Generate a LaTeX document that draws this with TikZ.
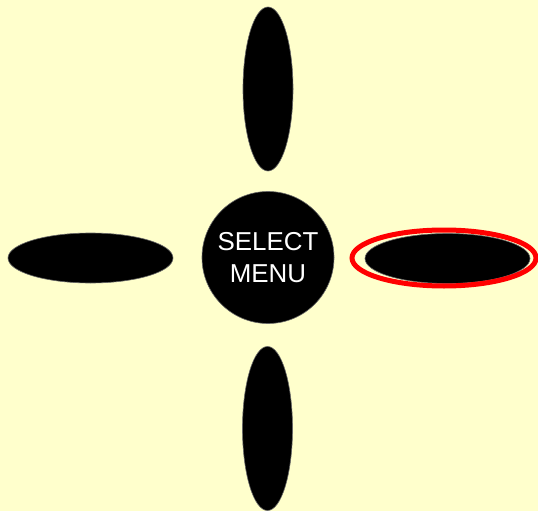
\documentclass[tikz,border=0pt]{standalone}
\usepackage{fontspec}
\setmainfont{Liberation Sans}
\usetikzlibrary{shapes.geometric}
\definecolor{bg}{HTML}{FFFFCC}
\definecolor{ring}{HTML}{FF0000}
\begin{document}
\begin{tikzpicture}[x=1bp,y=-1bp,
  pad/.style={ellipse,fill=black,draw=black!60,line width=0.6bp,inner sep=0,minimum width=#1},
  vpad/.style={pad,minimum width=50bp,minimum height=164bp},
  hpad/.style={pad,minimum width=165bp,minimum height=50bp},
  sel/.style={ellipse,draw=ring,line width=5bp,minimum width=184bp,minimum height=56bp,inner sep=0}]
\fill[bg] (0,0) rectangle (538,511);
\useasboundingbox (0,0) rectangle (538,511);
\node[vpad] (up) at (268,89) {};
\node[vpad] (down) at (267.5,428.5) {};
\node[hpad] (left) at (90.5,258) {};
\node[hpad] (right) at (447.5,258.5) {};
\node[sel] (ring) at (444,258) {};
\node[circle,fill=black,draw=black!60,line width=0.6bp,minimum size=132bp,inner sep=0,text=white,align=center,font=\fontsize{26}{32}\selectfont] (menu) at (268,257.5) {SELECT\\MENU};
\end{tikzpicture}
\end{document}
